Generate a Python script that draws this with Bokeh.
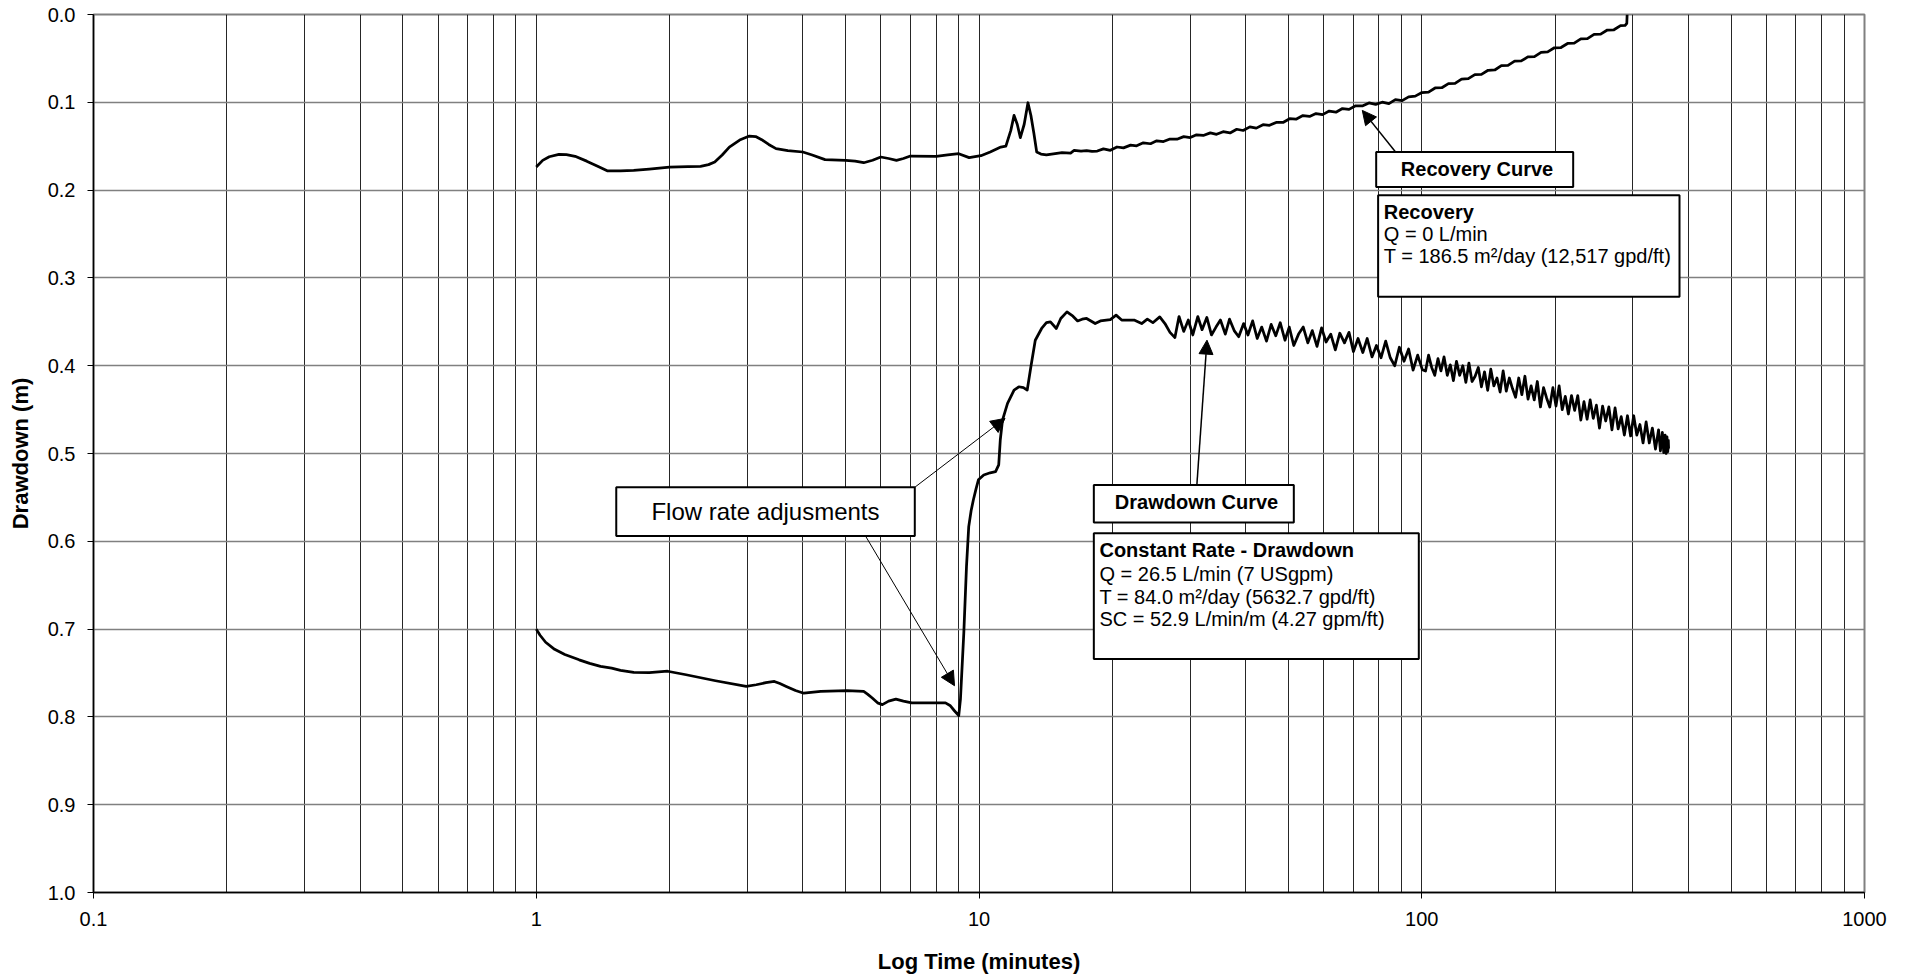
from bokeh.plotting import figure
from bokeh.models import (Range1d, FixedTicker, CustomJSTickFormatter, BoxAnnotation,
                          Label, Arrow, NormalHead, ColumnDataSource)
from bokeh.embed import file_html
from bokeh.resources import INLINE

FONT = "Liberation Sans"

# ---------------- data ----------------
# Constant-rate pumping (drawdown) curve: time in minutes, drawdown in m
drawdown_time = [
    1.0, 1.02, 1.05, 1.1, 1.16, 1.25, 1.32, 1.397, 1.48, 1.55, 1.66, 1.8, 1.98, 2.18, 2.54,
    2.98, 3.14, 3.3, 3.45, 3.55, 3.67, 3.85, 4.02, 4.39, 5.03, 5.49, 5.6, 5.74, 5.9, 6.05,
    6.25, 6.49, 6.75, 7.05, 7.93, 8.4, 8.6, 8.8, 9.0, 9.08, 9.24, 9.37, 9.48, 9.6, 9.71,
    9.85, 9.97, 10.25, 10.6, 10.9, 11.08, 11.17, 11.3, 11.6, 12.0, 12.3, 12.6, 12.85, 13.1,
    13.4, 13.85, 14.2, 14.5, 14.95, 15.3, 15.8, 16.3, 16.7, 17.1, 17.5, 18.3, 18.8, 19.8,
    20.4, 21.0, 22.4, 23.3, 24.0, 24.7, 25.6, 26.3,
    27.0, 27.7, 28.3, 29.0, 29.7, 30.4, 31.2, 31.9, 32.7, 33.5, 34.3, 35.1, 36.0, 36.8,
    37.7, 38.6, 39.6, 40.5, 41.5, 42.5, 43.5, 44.6, 45.7, 46.8, 47.9, 49.1, 50.2, 51.4,
    52.7, 54.0, 55.3, 56.6, 58.0, 59.4, 60.8, 62.3, 63.8, 65.3, 66.9, 68.5, 70.1, 71.8,
    73.6, 75.3, 77.2, 79.0, 80.9, 82.9, 84.9, 86.9, 89.0, 91.2, 93.4, 95.6, 97.9, 100.3,
    102, 103.6, 105.3, 107, 108.8, 110.5, 112.3, 114.2, 116, 117.9, 119.8, 121.8, 123.8,
    125.8, 127.8, 129.9, 132, 134.2, 136.4, 138.6, 140.9, 143.2, 145.5, 147.9, 150.3, 152.7,
    155.2, 157.7, 160.3, 162.9, 165.6, 168.3, 171, 173.8, 176.6, 179.5, 182.4, 185.4, 188.4,
    191.5, 194.6, 197.8, 201, 204.3, 207.6, 211, 214.4, 217.9, 221.5, 225.1, 228.7, 232.5,
    236.3, 240.1, 244, 248, 252, 256.1, 260.3, 264.6, 268.9, 273.3, 277.7, 282.2, 286.8,
    291.5, 296.3, 301.1, 306, 311, 316.1, 321.2, 326.5, 331.8, 337.2, 342.7, 346, 349.5,
    352, 354.5, 356.5, 358, 359.5, 360.5, 361, 360,
]
drawdown_m = [
    0.700, 0.707, 0.715, 0.723, 0.729, 0.735, 0.739, 0.7425, 0.7444, 0.747, 0.7494, 0.7495,
    0.748, 0.752, 0.7588, 0.7653, 0.7634, 0.761, 0.7596, 0.762, 0.7653, 0.770, 0.773, 0.771,
    0.770, 0.771, 0.774, 0.7785, 0.784, 0.786, 0.782, 0.7797, 0.782, 0.784, 0.784, 0.784,
    0.787, 0.793, 0.7986, 0.780, 0.7046, 0.6288, 0.5833, 0.565, 0.553, 0.540, 0.530, 0.5245,
    0.522, 0.5207, 0.513, 0.4846, 0.4619, 0.4429, 0.4278, 0.424, 0.425, 0.4278, 0.401, 0.371,
    0.3576, 0.351, 0.350, 0.3576, 0.3462, 0.3387, 0.3436, 0.349, 0.347, 0.3462, 0.352, 0.349,
    0.3475, 0.3424, 0.348, 0.348, 0.352, 0.347, 0.351, 0.3444, 0.352,
    0.362, 0.368, 0.344, 0.361, 0.348, 0.365, 0.344, 0.359, 0.345, 0.365, 0.356, 0.348,
    0.364, 0.347, 0.360, 0.367, 0.352, 0.365, 0.349, 0.369, 0.356, 0.372, 0.353, 0.366,
    0.351, 0.371, 0.356, 0.377, 0.364, 0.356, 0.374, 0.360, 0.378, 0.357, 0.373, 0.364,
    0.382, 0.363, 0.374, 0.362, 0.384, 0.369, 0.385, 0.369, 0.390, 0.377, 0.391, 0.372,
    0.391, 0.400, 0.379, 0.395, 0.381, 0.405, 0.388, 0.4045,
    0.406, 0.388, 0.402, 0.411, 0.392, 0.406, 0.390, 0.411, 0.399, 0.417, 0.395, 0.411,
    0.400, 0.419, 0.397, 0.418, 0.412, 0.402, 0.424, 0.407, 0.428, 0.404, 0.423, 0.414,
    0.430, 0.406, 0.429, 0.414, 0.426, 0.436, 0.414, 0.433, 0.412, 0.438, 0.423, 0.439,
    0.418, 0.447, 0.425, 0.437, 0.447, 0.425, 0.446, 0.423, 0.450, 0.435, 0.455, 0.434,
    0.451, 0.434, 0.462, 0.441, 0.461, 0.439, 0.460, 0.445, 0.471, 0.446, 0.463, 0.447,
    0.473, 0.448, 0.472, 0.458, 0.479, 0.457, 0.480, 0.457, 0.479, 0.467, 0.488, 0.464,
    0.488, 0.471, 0.495, 0.473, 0.497, 0.476, 0.499, 0.479, 0.500, 0.481, 0.498, 0.485,
    0.494, 0.489,
]

# Recovery curve: time in minutes, residual drawdown in m
recovery_time = [
    1.0, 1.034, 1.07, 1.125, 1.17, 1.224, 1.30, 1.38, 1.45, 1.55, 1.66, 1.8, 2.0, 2.2, 2.35,
    2.45, 2.53, 2.63, 2.73, 2.88, 3.03, 3.13, 3.23, 3.35, 3.48, 3.7, 4.0, 4.2, 4.49, 5.0,
    5.25, 5.49, 5.75, 6.0, 6.25, 6.51, 6.75, 7.0, 8.0, 8.5, 9.0, 9.5, 10.1, 10.6, 11.2, 11.5,
    11.8, 12.0, 12.2, 12.4, 12.65, 12.9, 13.1, 13.3, 13.5, 13.8, 14.2, 15.4, 16.1, 16.4,
    17.0, 17.5, 18.0,
    18.5, 19.1, 19.8, 20.5, 21.2, 22.0, 22.7, 23.5, 24.4, 25.2, 26.1, 27.0, 28.0, 29.0,
    30.0, 31.0, 32.1, 33.3, 34.4, 35.6, 36.9, 38.2, 39.5, 40.9, 42.3, 43.8, 45.3, 46.9,
    48.6, 50.3, 52.0, 53.9, 55.8, 57.7, 59.7, 61.8, 64.0, 66.2, 68.5, 70.9, 73.4, 76.0,
    78.7, 81.4, 84.3, 87.2, 90.3, 93.4, 96.7, 100.1, 103.6, 107.2, 111.0, 114.9, 118.9,
    123.0, 127.4, 131.8, 136.4, 141.2, 146.2, 151.3, 156.6, 162.1, 167.8, 173.6, 179.7,
    186.0, 192.5, 199.3, 206.3, 213.5, 221.0, 228.7, 236.7, 245.0, 253.6, 262.5, 271.7,
    281.2, 288.0, 290.5, 291.0,
]
recovery_m = [
    0.1737, 0.1661, 0.162, 0.1593, 0.1595, 0.1615, 0.167, 0.173, 0.1782, 0.178, 0.1775,
    0.176, 0.1737, 0.1732, 0.1729, 0.171, 0.168, 0.160, 0.151, 0.143, 0.1384, 0.139, 0.1426,
    0.148, 0.1528, 0.155, 0.1566, 0.160, 0.1653, 0.1661, 0.167, 0.1688, 0.166, 0.1623,
    0.164, 0.1661, 0.164, 0.1612, 0.1615, 0.160, 0.1585, 0.163, 0.1608, 0.1566, 0.151,
    0.150, 0.132, 0.1149, 0.125, 0.1403, 0.125, 0.1005, 0.115, 0.135, 0.1566, 0.159, 0.160,
    0.1574, 0.1578, 0.1547, 0.1555, 0.155, 0.156,
    0.1555, 0.1530, 0.1547, 0.1509, 0.1519, 0.1488, 0.1495, 0.1462, 0.1472, 0.1439,
    0.1447, 0.1418, 0.1420, 0.1391, 0.1402, 0.1370, 0.1378, 0.1348, 0.1365, 0.1335,
    0.1349, 0.1307, 0.1321, 0.1280, 0.1294, 0.1255, 0.1262, 0.1229, 0.1230, 0.1187,
    0.1192, 0.1151, 0.1161, 0.1128, 0.1140, 0.1100, 0.1113, 0.1071, 0.1081, 0.1040,
    0.1042, 0.1007, 0.1024, 0.0999, 0.1016, 0.0970, 0.0981, 0.0938, 0.0930, 0.0889,
    0.0884, 0.0837, 0.0834, 0.0787, 0.0784, 0.0736, 0.0731, 0.0684, 0.0682, 0.0635,
    0.0632, 0.0583, 0.0579, 0.0531, 0.0529, 0.0483, 0.0479, 0.0431, 0.0426, 0.0379,
    0.0376, 0.0330, 0.0326, 0.0278, 0.0274, 0.0226, 0.0224, 0.0177, 0.0174, 0.0126,
    0.0124, 0.0100, 0.0,
]

# axis ticks
x_major_ticks = [0.1, 1, 10, 100, 1000]
x_minor_ticks = [0.2, 0.3, 0.4, 0.5, 0.6, 0.7, 0.8, 0.9,
                 2, 3, 4, 5, 6, 7, 8, 9,
                 20, 30, 40, 50, 60, 70, 80, 90,
                 200, 300, 400, 500, 600, 700, 800, 900]
y_ticks = [0.0, 0.1, 0.2, 0.3, 0.4, 0.5, 0.6, 0.7, 0.8, 0.9, 1.0]

assert len(drawdown_time) == len(drawdown_m)
assert len(recovery_time) == len(recovery_m)

# ---------------- figure ----------------
p = figure(width=1898, height=976, x_axis_type="log",
           x_range=Range1d(0.1, 1000), y_range=Range1d(1.0, 0.0),
           output_backend="svg", toolbar_location=None,
           min_border_left=93, min_border_right=34, min_border_top=14, min_border_bottom=83,
           x_axis_label="Log Time (minutes)", y_axis_label="Drawdown (m)")

p.background_fill_color = "white"
p.border_fill_color = "white"
p.outline_line_color = "#808080"
p.outline_line_width = 2

xticker = FixedTicker(ticks=x_major_ticks, minor_ticks=x_minor_ticks)
p.xaxis.ticker = xticker
p.xaxis.formatter = CustomJSTickFormatter(code="return tick.toString();")
p.yaxis.ticker = FixedTicker(ticks=y_ticks)
p.yaxis.formatter = CustomJSTickFormatter(code="return tick.toFixed(1);")

for ax in (p.xaxis[0], p.yaxis[0]):
    ax.axis_line_color = "black"
    ax.axis_line_width = 1.5
    ax.major_tick_line_color = "black"
    ax.major_tick_line_width = 1
    ax.major_tick_in = 0
    ax.major_tick_out = 6
    ax.minor_tick_line_color = None
    ax.major_label_text_font = FONT
    ax.major_label_text_font_size = "20px"
    ax.major_label_text_color = "black"
    ax.axis_label_text_font = FONT
    ax.axis_label_text_font_style = "bold"
    ax.axis_label_text_font_size = "22px"
    ax.axis_label_text_color = "black"

p.xaxis.major_label_standoff = 13
p.xaxis.axis_label_standoff = 20
p.yaxis.major_label_standoff = 12
p.yaxis.axis_label_standoff = 12

p.xgrid.grid_line_color = "black"
p.xgrid.grid_line_alpha = 0.85
p.xgrid.grid_line_width = 1
p.xgrid.minor_grid_line_color = "black"
p.xgrid.minor_grid_line_alpha = 0.85
p.xgrid.minor_grid_line_width = 1
p.ygrid.grid_line_color = "#808080"
p.ygrid.grid_line_width = 1.5

# ---------------- curves ----------------
dd_src = ColumnDataSource(dict(t=drawdown_time, s=drawdown_m))
rc_src = ColumnDataSource(dict(t=recovery_time, s=recovery_m))
p.line("t", "s", source=dd_src, line_color="black", line_width=2.75, line_join="round")
p.line("t", "s", source=rc_src, line_color="black", line_width=2.75, line_join="round")

# ---------------- annotations ----------------
def box(left, right, top, bottom):
    p.add_layout(BoxAnnotation(left=left, right=right, top=top, bottom=bottom,
                               fill_color="white", fill_alpha=1.0,
                               line_color="black", line_alpha=1.0, line_width=2))

def label(x, y, text, size="20px", style="normal", align="left"):
    p.add_layout(Label(x=x, y=y, text=text, text_font=FONT, text_font_size=size,
                       text_font_style=style, text_align=align,
                       text_baseline="alphabetic", text_color="black"))

def arrow(x0, y0, x1, y1, w=1.0):
    p.add_layout(Arrow(end=NormalHead(size=14, fill_color="black", line_color="black",
                                      line_width=1),
                       x_start=x0, y_start=y0, x_end=x1, y_end=y1,
                       line_color="black", line_width=w))

# flow rate adjustments
box(1.516, 7.161, 0.5385, 0.5939)
label(3.294, 0.5662, "Flow rate adjusments", size="24px", align="center")
arrow(7.16, 0.5385, 11.45, 0.460)
arrow(5.541, 0.5939, 8.805, 0.7645)

# drawdown curve
box(18.17, 51.41, 0.5358, 0.5787)
label(30.99, 0.5555, "Drawdown Curve", style="bold", align="center")
arrow(31.05, 0.5358, 32.73, 0.3709, 1.5)
box(18.17, 98.48, 0.5908, 0.7341)
label(18.71, 0.6101, "Constant Rate - Drawdown", style="bold")
label(18.71, 0.6367, "Q = 26.5 L/min (7 USgpm)")
label(18.71, 0.6632, "T = 84.0 m\u00b2/day (5632.7 gpd/ft)")
label(18.71, 0.6890, "SC = 52.9 L/min/m (4.27 gpm/ft)")

# recovery curve
box(78.9, 219.8, 0.1567, 0.1965)
label(133.3, 0.1759, "Recovery Curve", style="bold", align="center")
arrow(87.27, 0.1567, 73.4, 0.1092, 1.5)
box(79.7, 382.1, 0.2059, 0.3216)
label(82.08, 0.2244, "Recovery", style="bold")
label(82.08, 0.2499, "Q = 0 L/min")
label(82.08, 0.2756, "T = 186.5 m\u00b2/day (12,517 gpd/ft)")

open("out.html", "w").write(file_html(p, INLINE))
